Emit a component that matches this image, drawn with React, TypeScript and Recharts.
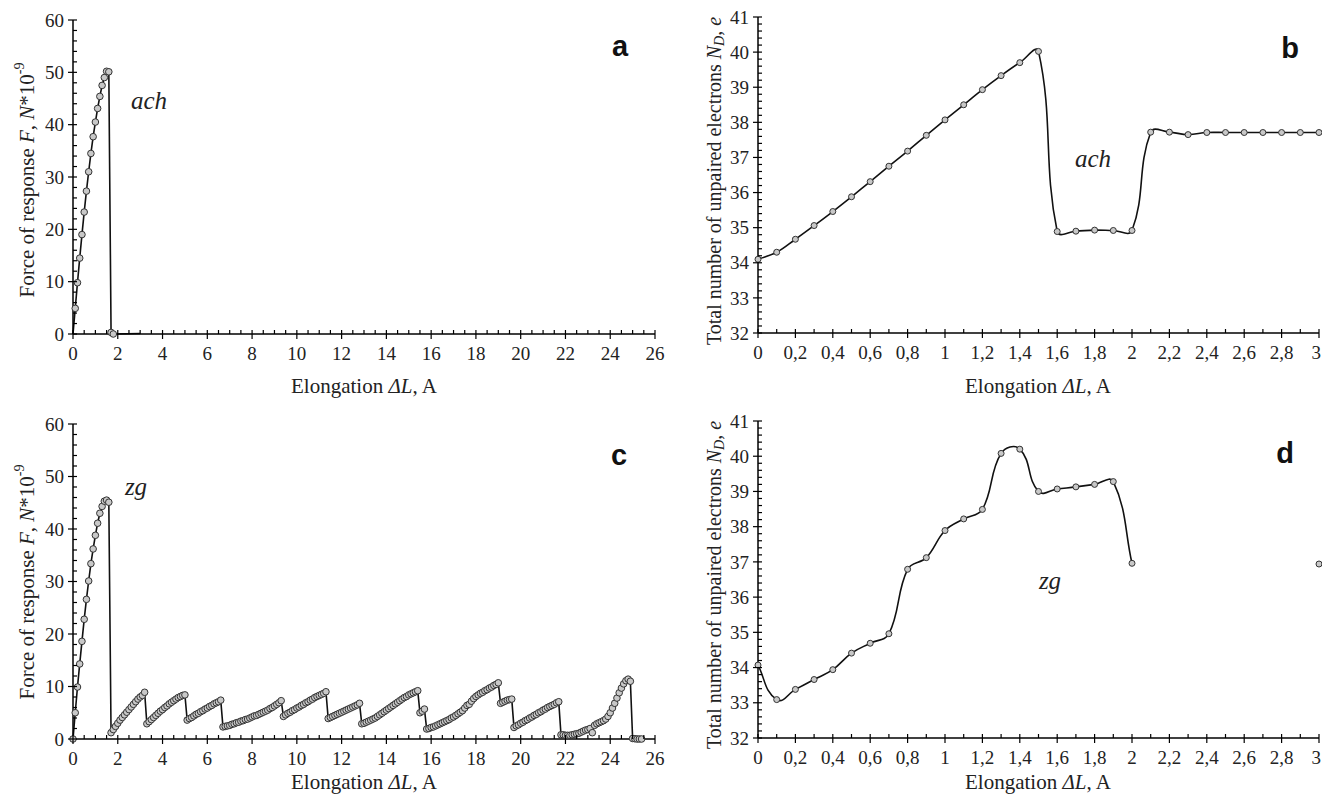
import React from "react";
import { LineChart, Line, XAxis, YAxis } from "recharts";

const SERIF = "'Liberation Serif', Tinos, 'DejaVu Serif', serif";
const SANS = "'Liberation Sans', Arimo, Arial, sans-serif";

// a: force of response for ach, 0.1 A steps up to rupture, then the tail
const achForceX = [0, 0.1, 0.2, 0.3, 0.4, 0.5, 0.6, 0.7, 0.8, 0.9, 1.0, 1.1, 1.2, 1.3, 1.4, 1.5, 1.6, 1.7, 1.8, 3.0];
const achForce = [0, 4.9, 9.8, 14.5, 19.0, 23.3, 27.3, 31.0, 34.5, 37.7, 40.5, 43.1, 45.4, 47.5, 49.0, 50.2, 50.1, 0.3, 0.0, 0.1];

// c: force of response for zg, each run continues in 0.1 A steps from `from`
const zgForceRuns = [
  { from: 0, values: [0, 5.0, 9.9, 14.3, 18.6, 22.8, 26.6, 30.1, 33.4, 36.2, 38.8, 41.1, 43.0, 44.3, 45.3, 45.5, 45.1] },
  { from: 1.7, values: [1.2, 1.8, 2.4, 3.0, 3.6, 4.1, 4.6, 5.1, 5.6, 6.1, 6.6, 7.1, 7.6, 8.0, 8.3, 8.9] },
  { from: 3.3, values: [2.9, 3.3, 3.7, 4.1, 4.5, 4.9, 5.3, 5.6, 6.0, 6.3, 6.7, 7.0, 7.3, 7.6, 7.9, 8.1, 8.3, 8.4] },
  { from: 5.1, values: [3.6, 3.9, 4.1, 4.4, 4.7, 4.9, 5.2, 5.4, 5.7, 5.9, 6.2, 6.4, 6.7, 6.9, 7.1, 7.4] },
  { from: 6.7, values: [2.3, 2.4, 2.5, 2.6, 2.8, 2.9, 3.1, 3.2, 3.4, 3.5, 3.7, 3.8, 4.0, 4.2, 4.4, 4.5, 4.7, 4.9, 5.1, 5.3, 5.5, 5.8, 6.0, 6.3, 6.6, 6.9, 7.3] },
  { from: 9.4, values: [4.3, 4.6, 4.9, 5.1, 5.4, 5.6, 5.9, 6.1, 6.4, 6.6, 6.9, 7.1, 7.4, 7.6, 7.9, 8.1, 8.3, 8.5, 8.7, 9.0] },
  { from: 11.4, values: [3.9, 4.1, 4.3, 4.5, 4.7, 4.9, 5.1, 5.3, 5.5, 5.7, 5.9, 6.1, 6.3, 6.5, 6.8] },
  { from: 12.9, values: [2.9, 3.0, 3.2, 3.4, 3.6, 3.8, 4.0, 4.3, 4.6, 4.9, 5.2, 5.5, 5.8, 6.1, 6.4, 6.7, 7.0, 7.3, 7.6, 7.9, 8.1, 8.4, 8.6, 8.8, 9.0, 9.2] },
  { from: 15.5, values: [5.0, 5.3, 5.7] },
  { from: 15.8, values: [1.9, 2.0, 2.2, 2.3, 2.5, 2.7, 2.9, 3.1, 3.3, 3.5, 3.7, 4.0, 4.2, 4.5, 4.8, 5.1, 5.4, 5.9, 6.4, 6.6, 7.2, 7.7, 8.1, 8.4, 8.7, 8.9, 9.2, 9.4, 9.7, 9.9, 10.2, 10.4, 10.7] },
  { from: 19.1, values: [6.8, 7.0, 7.2, 7.4, 7.5, 7.6] },
  { from: 19.7, values: [2.2, 2.5, 2.7, 3.0, 3.2, 3.5, 3.7, 4.0, 4.2, 4.5, 4.7, 5.0, 5.2, 5.5, 5.7, 6.0, 6.2, 6.4, 6.6, 6.9, 7.1] },
  { from: 21.8, values: [0.8, 0.8, 0.7, 0.7, 0.7, 0.8, 0.9, 1.0, 1.1, 1.3, 1.5, 1.7, 1.8, 2.0, 1.2, 2.6, 2.9, 3.1, 3.3, 3.5, 3.8, 4.3, 5.0, 5.9, 6.8, 7.8, 8.8, 9.7, 10.5, 11.1, 11.4, 11.0] },
  { from: 25.0, values: [0.1, 0.05, 0, 0, 0] },
];

// b, d: total number of unpaired electrons
const elongSteps = [0, 0.1, 0.2, 0.3, 0.4, 0.5, 0.6, 0.7, 0.8, 0.9, 1.0, 1.1, 1.2, 1.3, 1.4, 1.5, 1.6, 1.7, 1.8, 1.9, 2.0, 2.1, 2.2, 2.3, 2.4, 2.5, 2.6, 2.7, 2.8, 2.9, 3.0];
const achND = [34.10, 34.30, 34.67, 35.06, 35.46, 35.88, 36.31, 36.75, 37.18, 37.63, 38.07, 38.50, 38.93, 39.33, 39.70, 40.02, 34.89, 34.90, 34.93, 34.92, 34.92, 37.72, 37.72, 37.65, 37.71, 37.71, 37.71, 37.71, 37.71, 37.71, 37.71];
const zgND = [34.07, 33.09, 33.38, 33.66, 33.94, 34.41, 34.69, 34.96, 36.79, 37.12, 37.89, 38.22, 38.49, 40.08, 40.20, 39.00, 39.07, 39.13, 39.20, 39.28, 36.96, null, null, null, null, null, null, null, null, null, 36.94];

const range = (a: number, b: number, step: number) => {
  const out: number[] = [];
  for (let i = 0; a + i * step <= b + 1e-9; i++) out.push(Math.round((a + i * step) * 100) / 100);
  return out;
};
const forceXTicks = range(0, 26, 0.5);
const forceYTicks = range(0, 60, 2);
const ndXTicks = range(0, 3, 0.1);
const ndYTicks = range(32, 41, 0.2);

const achForceData = achForceX.map((x, i) => ({ x, f: achForce[i] }));
const zgForceData = zgForceRuns.flatMap((run) =>
  run.values.map((f, i) => ({ x: Math.round((run.from + i * 0.1) * 10) / 10, f }))
);
const achNDData = elongSteps.map((x, i) => ({ x, n: achND[i] }));
const zgNDData = elongSteps.map((x, i) => ({ x, n: zgND[i] }));

// Excel-like smoothed line: tangent from neighbours, arm length tied to the segment's own length
const smoothCurve = (context: any) => {
  let pts: number[][] = [];
  const tangent = (i: number) => {
    const a = pts[Math.max(i - 1, 0)];
    const b = pts[Math.min(i + 1, pts.length - 1)];
    const dx = b[0] - a[0];
    const dy = b[1] - a[1];
    const len = Math.hypot(dx, dy) || 1;
    return [dx / len, dy / len];
  };
  return {
    areaStart() {},
    areaEnd() {},
    lineStart() {
      pts = [];
    },
    point(x: number, y: number) {
      pts.push([+x, +y]);
    },
    lineEnd() {
      if (!pts.length) return;
      context.moveTo(pts[0][0], pts[0][1]);
      for (let i = 0; i < pts.length - 1; i++) {
        const p1 = pts[i];
        const p2 = pts[i + 1];
        const d = Math.hypot(p2[0] - p1[0], p2[1] - p1[1]) * 0.38;
        const t1 = tangent(i);
        const t2 = tangent(i + 1);
        context.bezierCurveTo(p1[0] + t1[0] * d, p1[1] + t1[1] * d, p2[0] - t2[0] * d, p2[1] - t2[1] * d, p2[0], p2[1]);
      }
    },
  };
};

const near = (v: number, step: number) => Math.abs(v / step - Math.round(v / step)) < 1e-6;
const fmtComma = (v: number) => (Number.isInteger(v) ? String(v) : v.toFixed(1).replace(".", ","));

const tickText = { fontFamily: SERIF, fontSize: 19, fill: "#222" };

// the label at the right end of the axis is pulled inside the chart so it is not cut
const xTick = (majorStep: number, fmt: (v: number) => string, lastValue?: number) => (p: any) => {
  const v = p.payload.value;
  const major = near(v, majorStep);
  const atEdge = lastValue !== undefined && Math.abs(v - lastValue) < 1e-6;
  return (
    <g>
      <line x1={p.x} x2={p.x} y1={p.y - 4} y2={major ? p.y + 5 : p.y} stroke="#000" strokeWidth={1.2} />
      {major && (
        <text x={atEdge ? p.x + 2 : p.x} y={p.y + 26} textAnchor={atEdge ? "end" : "middle"} style={tickText}>
          {fmt(v)}
        </text>
      )}
    </g>
  );
};

const yTick = (majorStep: number) => (p: any) => {
  const v = p.payload.value;
  const major = near(v, majorStep);
  return (
    <g>
      <line x1={major ? p.x - 5 : p.x} x2={p.x + 4} y1={p.y} y2={p.y} stroke="#000" strokeWidth={1.2} />
      {major && (
        <text x={p.x - 9} y={p.y} dy="0.35em" textAnchor="end" style={tickText}>
          {Math.round(v)}
        </text>
      )}
    </g>
  );
};

const axisLine = { stroke: "#000", strokeWidth: 1.5 };
const dotStyle = { r: 3.3, fill: "#c8c8c8", stroke: "#333", strokeWidth: 1 };

function ForceChart({ data, height, xAxisHeight, hideEnds }: { data: { x: number; f: number }[]; height: number; xAxisHeight: number; hideEnds?: boolean }) {
  const last = data.length - 1;
  const dot = hideEnds
    ? (p: any) =>
        p.index === 0 || p.index === last ? (
          <g key={p.index} />
        ) : (
          <circle key={p.index} cx={p.cx} cy={p.cy} {...dotStyle} />
        )
    : dotStyle;
  return (
    <LineChart width={680} height={height} data={data} margin={{ top: 20, right: 25, bottom: 0, left: 0 }}>
      <XAxis dataKey="x" type="number" domain={[0, 26]} ticks={forceXTicks} interval={0} tickSize={0} tickMargin={0}
        tickLine={false} axisLine={axisLine} height={xAxisHeight} tick={xTick(2, (v) => String(v))} />
      <YAxis type="number" domain={[0, 60]} ticks={forceYTicks} interval={0} tickSize={0} tickMargin={0}
        tickLine={false} axisLine={axisLine} width={73} tick={yTick(10)} />
      <XAxis xAxisId="top" orientation="top" type="number" domain={[0, 26]} tick={false} tickLine={false} axisLine={axisLine} height={0} />
      <YAxis yAxisId="right" orientation="right" type="number" domain={[0, 60]} tick={false} tickLine={false} axisLine={axisLine} width={0} />
      <Line dataKey="f" type="linear" stroke="#111" strokeWidth={1.6} dot={dot} activeDot={false} isAnimationActive={false} />
    </LineChart>
  );
}

function NDChart({ data, height, xAxisHeight }: { data: { x: number; n: number | null }[]; height: number; xAxisHeight: number }) {
  return (
    <LineChart width={642} height={height} data={data} margin={{ top: 17, right: 3, bottom: 0, left: 0 }}>
      <XAxis dataKey="x" type="number" domain={[0, 3]} ticks={ndXTicks} interval={0} tickSize={0} tickMargin={0}
        tickLine={false} axisLine={axisLine} height={xAxisHeight} tick={xTick(0.2, fmtComma, 3)} />
      <YAxis type="number" domain={[32, 41]} ticks={ndYTicks} interval={0} tickSize={0} tickMargin={0}
        tickLine={false} axisLine={axisLine} width={78} tick={yTick(1)} />
      <XAxis xAxisId="top" orientation="top" type="number" domain={[0, 3]} tick={false} tickLine={false} axisLine={axisLine} height={0} />
      <YAxis yAxisId="right" orientation="right" type="number" domain={[32, 41]} tick={false} tickLine={false} axisLine={axisLine} width={0} />
      <Line dataKey="n" type={smoothCurve as any} stroke="#111" strokeWidth={1.6} dot={{ ...dotStyle, r: 3 }}
        activeDot={false} connectNulls={false} isAnimationActive={false} />
    </LineChart>
  );
}

const titleStyle = { fontFamily: SERIF, fontSize: 21, fill: "#222" };
const ndTitleStyle = { ...titleStyle, fontSize: 20 };
const letterStyle = { fontFamily: SANS, fontSize: 29, fontWeight: 700, fill: "#111" };
const tagStyle = { fontFamily: SERIF, fontSize: 25, fontStyle: "italic" as const, fill: "#222" };

function ForceTitle({ cx, cy }: { cx: number; cy: number }) {
  return (
    <text transform={`translate(${cx},${cy}) rotate(-90)`} textAnchor="middle" dominantBaseline="central" style={titleStyle}>
      Force of response{"  "}
      <tspan fontStyle="italic">F</tspan>, <tspan fontStyle="italic">N</tspan>*10
      <tspan dy={-8} fontSize={14}>-9</tspan>
    </text>
  );
}

function NDTitle({ cx, cy }: { cx: number; cy: number }) {
  return (
    <text transform={`translate(${cx},${cy}) rotate(-90)`} textAnchor="middle" dominantBaseline="central" style={ndTitleStyle}>
      Total number of unpaired electrons{"  "}
      <tspan fontStyle="italic">N</tspan>
      <tspan fontStyle="italic" fontSize={14} dy={5}>D</tspan>
      <tspan dy={-5}>, </tspan>
      <tspan fontStyle="italic">e</tspan>
    </text>
  );
}

function ElongTitle({ cx, y }: { cx: number; y: number }) {
  return (
    <text x={cx} y={y} textAnchor="middle" style={titleStyle}>
      Elongation <tspan fontStyle="italic">ΔL</tspan>, A
    </text>
  );
}

export default function App() {
  return (
    <div style={{ position: "absolute", left: 0, top: 0, width: 1322, height: 794, background: "#fff", overflow: "hidden" }}>
      <div style={{ position: "absolute", left: 0, top: 0 }}>
        <ForceChart data={achForceData} height={400} xAxisHeight={66} hideEnds />
      </div>
      <div style={{ position: "absolute", left: 0, top: 404 }}>
        <ForceChart data={zgForceData} height={390} xAxisHeight={55} />
      </div>
      <div style={{ position: "absolute", left: 680, top: 0 }}>
        <NDChart data={achNDData} height={400} xAxisHeight={67} />
      </div>
      <div style={{ position: "absolute", left: 680, top: 404 }}>
        <NDChart data={zgNDData} height={390} xAxisHeight={56} />
      </div>
      <svg width={1322} height={794} style={{ position: "absolute", left: 0, top: 0, pointerEvents: "none" }}>
        <ForceTitle cx={27} cy={180} />
        <ForceTitle cx={27} cy={582} />
        <NDTitle cx={714} cy={181} />
        <NDTitle cx={714} cy={585} />
        <ElongTitle cx={364} y={393} />
        <ElongTitle cx={1038} y={393} />
        <ElongTitle cx={364} y={789} />
        <ElongTitle cx={1038} y={789} />
        <text x={620} y={46} textAnchor="middle" dominantBaseline="central" style={letterStyle}>a</text>
        <text x={1290} y={48} textAnchor="middle" dominantBaseline="central" style={letterStyle}>b</text>
        <text x={619} y={455} textAnchor="middle" dominantBaseline="central" style={letterStyle}>c</text>
        <text x={1285} y={453} textAnchor="middle" dominantBaseline="central" style={letterStyle}>d</text>
        <text x={149} y={100} textAnchor="middle" dominantBaseline="central" style={tagStyle}>ach</text>
        <text x={1093} y={158} textAnchor="middle" dominantBaseline="central" style={tagStyle}>ach</text>
        <text x={136} y={486} textAnchor="middle" dominantBaseline="central" style={tagStyle}>zg</text>
        <text x={1050} y={580} textAnchor="middle" dominantBaseline="central" style={tagStyle}>zg</text>
      </svg>
    </div>
  );
}
